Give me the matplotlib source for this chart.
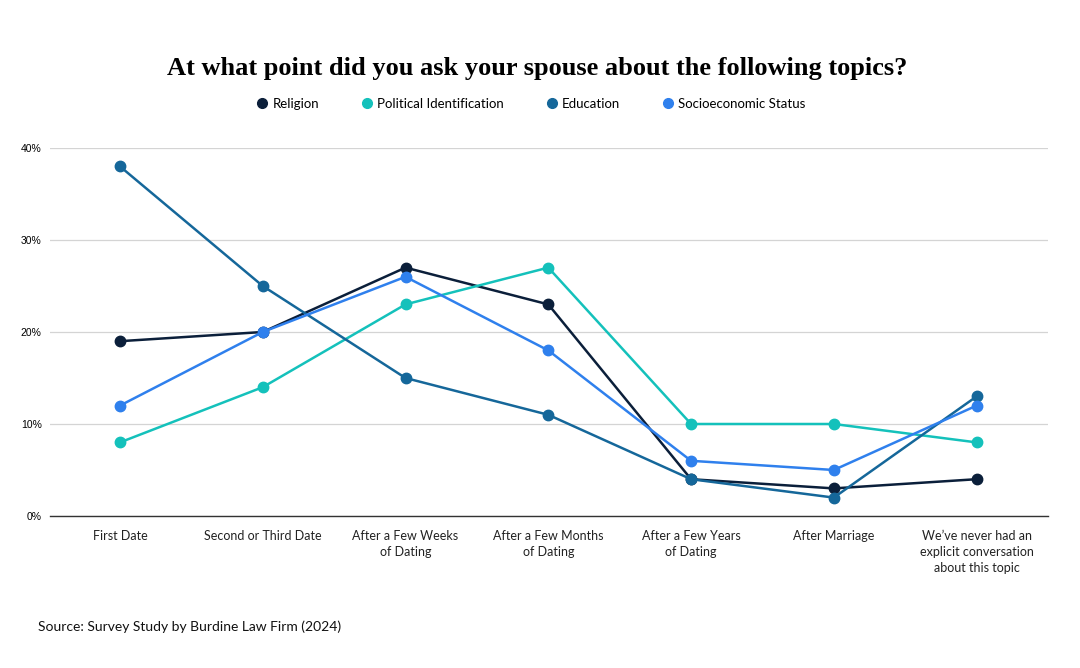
import matplotlib.pyplot as plt
from matplotlib.lines import Line2D

categories = ['First Date', 'Second or Third Date', 'After a Few Weeks\nof Dating',
              'After a Few Months\nof Dating', 'After a Few Years\nof Dating',
              'After Marriage', 'We\u2019ve never had an\nexplicit conversation\nabout this topic']
religion = [19, 20, 27, 23, 4, 3, 4]
political = [8, 14, 23, 27, 10, 10, 8]
education = [38, 25, 15, 11, 4, 2, 13]
socio = [12, 20, 26, 18, 6, 5, 12]

series = [('Religion', religion, '#0b1f3a'),
          ('Political Identification', political, '#14c1bb'),
          ('Education', education, '#15679a'),
          ('Socioeconomic Status', socio, '#2f80ed')]

fig = plt.figure(figsize=(10.8, 6.68), dpi=100)
fig.patch.set_facecolor('white')
ax = fig.add_axes([50/1080, 1 - 516/668, (1048-50)/1080, (516-148)/668])

x = list(range(len(categories)))
for name, vals, col in series:
    ax.plot(x, vals, color=col, lw=1.8, marker='o', ms=7.5, label=name, zorder=3)

ax.set_ylim(0, 40)
ax.set_xlim(-0.49, 6.5)
ax.set_yticks([0, 10, 20, 30, 40])
ax.set_yticklabels(['0%', '10%', '20%', '30%', '40%'], fontsize=7.5, family='Liberation Sans')
ax.yaxis.grid(True, color='#d4d4d4', lw=0.9)
ax.set_axisbelow(True)
ax.set_xticks(x)
ax.set_xticklabels(categories, fontsize=9, family='Lato', color='#222222', linespacing=1.4, va='top')
ax.tick_params(axis='x', length=0, pad=10)
ax.tick_params(axis='y', length=0, pad=6)
for s in ['top', 'right', 'left']:
    ax.spines[s].set_visible(False)
ax.spines['bottom'].set_color('#333333')
ax.spines['bottom'].set_linewidth(1.0)
ax.set_facecolor('white')

fig.text(537/1080, 1 - 68/668, 'At what point did you ask your spouse about the following topics?',
         ha='center', va='center', fontsize=19, fontweight='bold', family='Liberation Serif')

handles = [Line2D([], [], color=c, marker='o', ls='', ms=7) for _, _, c in series]
fig.legend(handles, [n for n, _, _ in series], loc='center', bbox_to_anchor=(530/1080, 1 - 104/668),
           ncol=4, frameon=False, prop={'family': 'Lato', 'size': 9.5},
           columnspacing=3.0, handletextpad=0.2, handlelength=1.2)

fig.text(38/1080, 1 - 627/668, 'Source: Survey Study by Burdine Law Firm (2024)',
         ha='left', va='center', fontsize=10, family='Lato', color='#111111')

fig.savefig('out.png', dpi=100, facecolor='white')
